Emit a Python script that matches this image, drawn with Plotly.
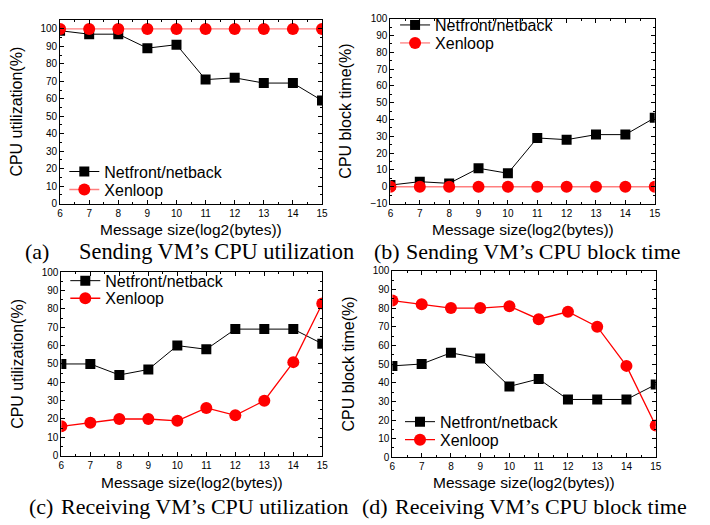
import plotly.graph_objects as go

x = [6, 7, 8, 9, 10, 11, 12, 13, 14, 15]

a_net = [99, 97, 97, 89, 91, 71, 72, 69, 69, 59]
a_xen = [100, 100, 100, 100, 100, 100, 100, 100, 100, 100]
b_net = [1, 3, 2, 11, 8, 29, 28, 31, 31, 41]
b_xen = [0, 0, 0, 0, 0, 0, 0, 0, 0, 0]
c_net = [50, 50, 44, 47, 60, 58, 69, 69, 69, 61]
c_xen = [16, 18, 20, 20, 19, 26, 22, 30, 51, 83]
d_net = [49, 50, 56, 53, 38, 42, 31, 31, 31, 39]
d_xen = [84, 82, 80, 80, 81, 74, 78, 70, 49, 17]

names = ["Netfront/netback", "Xenloop"]
cap_labels = ["(a)", "(b)", "(c)", "(d)"]
cap_texts = ["Sending VM’s CPU utilization", "Sending VM’s CPU block time",
             "Receiving VM’s CPU utilization", "Receiving VM’s CPU block time"]
ytitles = ["CPU utilization(%)", "CPU block time(%)", "CPU utilization(%)", "CPU block time(%)"]
xtitle = "Message size(log2(bytes))"

W, H = 710, 525
OFF = 8  # page body margin
def px(v):
    return (v - OFF) / W
def py(v):
    return 1 - (v - OFF) / H

panels = [
    dict(net=a_net, xen=a_xen, xd=[57.7, 323], yd=[14, 202], yr=[0, 105.2], xenline="#ff7f7f",
         leg=(105, 169.3, 187.7), xt=228.5, lab=(21, 251), cap=(76, 251, 22.4)),
    dict(net=b_net, xen=b_xen, xd=[392.3, 660], yd=[12.7, 202], yr=[-10, 100], xenline="#ff7f7f",
         leg=(440, 19.3, 37.7), xt=228.5, lab=(375, 251), cap=(407, 251, 22)),
    dict(net=c_net, xen=c_xen, xd=[59, 323.3], yd=[272.3, 460], yr=[0, 100], xenline="#ff0000",
         leg=(106, 281, 299), xt=487.5, lab=(25, 512), cap=(58, 512, 22)),
    dict(net=d_net, xen=d_xen, xd=[394.3, 661], yd=[270.7, 461.7], yr=[0, 100], xenline="#ff0000",
         leg=(445, 425.3, 443.7), xt=487.5, lab=(362, 512), cap=(396, 512, 22)),
]

fig = go.Figure()
font_axis = "Liberation Sans, Arial, sans-serif"
font_cap = "Liberation Serif, Times New Roman, serif"
TEXT_OFF = 43

for i, p in enumerate(panels):
    n = i + 1
    xa = "x" if n == 1 else f"x{n}"
    ya = "y" if n == 1 else f"y{n}"
    lg1 = "legend" if n == 1 else f"legend{2 * n - 1}"
    lg2 = f"legend{2 * n}"
    fig.add_trace(go.Scatter(x=x, y=p["net"], name=names[0], mode="lines+markers",
                             line=dict(color="black", width=1),
                             marker=dict(symbol="square", size=10, color="black"),
                             xaxis=xa, yaxis=ya, legend=lg1))
    fig.add_trace(go.Scatter(x=x, y=p["xen"], name=names[1], mode="lines+markers",
                             line=dict(color=p["xenline"], width=1.3),
                             marker=dict(symbol="circle", size=12, color="#ff0000"),
                             xaxis=xa, yaxis=ya, legend=lg2))
    axcommon = dict(showline=True, linecolor="black", linewidth=1, mirror="allticks",
                    ticks="inside", ticklen=4, tickcolor="black", showgrid=False, zeroline=False,
                    tickfont=dict(family=font_axis, size=10, color="black"))
    xkey = "xaxis" if n == 1 else f"xaxis{n}"
    ykey = "yaxis" if n == 1 else f"yaxis{n}"
    legcommon = dict(xanchor="left", yanchor="middle", bgcolor="rgba(0,0,0,0)", itemwidth=30,
                     font=dict(family=font_axis, size=16, color="black"))
    fig.update_layout(**{
        xkey: dict(domain=[px(p["xd"][0]), px(p["xd"][1])], range=[6, 15], dtick=1, tick0=6,
                   anchor=ya,
                   minor=dict(dtick=0.5, ticks="inside", ticklen=2, tickcolor="black", showgrid=False),
                   **axcommon),
        ykey: dict(domain=[py(p["yd"][1]), py(p["yd"][0])], range=p["yr"], dtick=10, tick0=0,
                   anchor=xa,
                   minor=dict(dtick=5, ticks="inside", ticklen=2, tickcolor="black", showgrid=False),
                   title=dict(text=ytitles[i], font=dict(family=font_axis, size=16, color="black"), standoff=14),
                   **axcommon),
        lg1: dict(x=px(p["leg"][0] - TEXT_OFF), y=py(p["leg"][1]), **legcommon),
        lg2: dict(x=px(p["leg"][0] - TEXT_OFF), y=py(p["leg"][2]), **legcommon),
    })
    # x-axis title placed as text under the axis
    fig.add_annotation(text=xtitle, x=px((p["xd"][0] + p["xd"][1]) / 2), y=py(p["xt"]),
                       xref="paper", yref="paper", xanchor="center", yanchor="middle",
                       showarrow=False, borderpad=0,
                       font=dict(family=font_axis, size=15.5, color="black"))
    fig.add_annotation(text=cap_labels[i], x=px(p["lab"][0]), y=py(p["lab"][1]), xref="paper", yref="paper",
                       xanchor="left", yanchor="middle", showarrow=False, borderpad=0,
                       font=dict(family=font_cap, size=22, color="black"))
    fig.add_annotation(text=cap_texts[i], x=px(p["cap"][0]), y=py(p["cap"][1]), xref="paper", yref="paper",
                       xanchor="left", yanchor="middle", showarrow=False, borderpad=0,
                       font=dict(family=font_cap, size=p["cap"][2], color="black"))

fig.update_layout(width=W, height=H, margin=dict(l=0, r=0, t=0, b=0),
                  paper_bgcolor="white", plot_bgcolor="white", showlegend=True)

fig.write_html("out.html")
